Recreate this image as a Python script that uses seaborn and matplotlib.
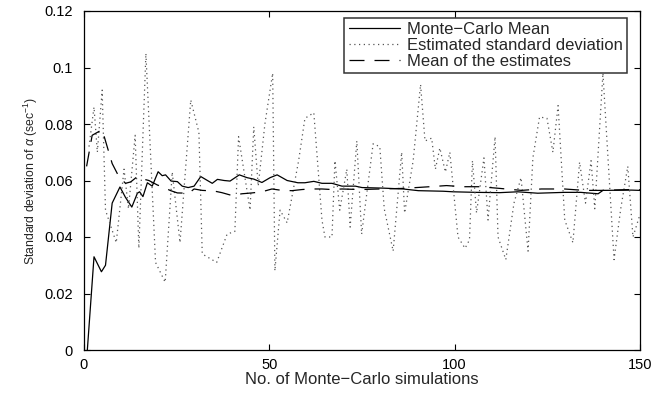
import numpy as np
import pandas as pd
import matplotlib
matplotlib.use("Agg")
import matplotlib.pyplot as plt
import seaborn as sns

# ---- data ----
mc_x = [0.9, 2.7, 4.7, 5.8, 7.6, 9.7, 11.2, 12.9, 14.4, 15.0, 15.9, 17.1, 18.4, 20.0, 21.1, 22.0,
        23.5, 25.2, 26.5, 28.1, 29.7, 31.5, 33.3, 34.6, 36.0, 37.8, 39.4, 41.9, 44.0, 45.8, 48.0,
        50.2, 52.1, 54.8, 57.7, 59.6, 62.0, 64.2, 66.9, 69.6, 73.2, 75.0, 80.7, 86.1, 90.2, 96.9,
        99.6, 105.9, 112.2, 117.0, 122.4, 129.6, 134.0, 138.7, 140.0, 147.7, 150.0]
mc_y = [0.0, 0.033, 0.0277, 0.030, 0.052, 0.0577, 0.054, 0.0506, 0.0555, 0.056, 0.0543, 0.0592,
        0.058, 0.0631, 0.0617, 0.062, 0.0598, 0.0596, 0.058, 0.0575, 0.058, 0.0614, 0.060, 0.059,
        0.0604, 0.060, 0.0598, 0.062, 0.061, 0.0605, 0.0593, 0.061, 0.062, 0.060, 0.0592, 0.0592,
        0.0597, 0.059, 0.059, 0.058, 0.058, 0.0575, 0.0573, 0.057, 0.0564, 0.0562, 0.056, 0.0558,
        0.0557, 0.056, 0.0555, 0.0558, 0.0558, 0.0553, 0.0565, 0.0566, 0.0565]

est_x = [1.35, 2.7, 3.6, 4.9, 5.8, 8.7, 10.8, 12.0, 13.8, 14.8, 16.7, 19.3, 21.9, 23.8, 25.9,
         28.8, 31.0, 31.9, 35.8, 38.6, 40.7, 41.7, 44.8, 45.8, 47.0, 48.8, 50.9, 51.5, 52.9, 54.8,
         57.9, 59.6, 62.0, 64.2, 65.0, 66.9, 67.7, 69.0, 70.9, 71.8, 73.6, 74.9, 78.0, 79.8, 81.0,
         83.4, 85.7, 86.5, 88.8, 90.8, 92.0, 93.8, 94.8, 96.0, 97.5, 98.7, 100.9, 102.8, 104.0,
         104.8, 105.9, 107.9, 109.0, 110.9, 111.7, 113.8, 116.0, 117.9, 119.8, 121.1, 122.9,
         124.9, 126.5, 127.9, 129.7, 131.9, 133.7, 135.3, 136.8, 137.8, 140.0, 143.0, 144.8,
         146.7, 148.1, 150.0]
est_y = [0.072, 0.086, 0.070, 0.092, 0.0495, 0.038, 0.064, 0.050, 0.076, 0.036, 0.105, 0.031,
         0.024, 0.063, 0.038, 0.0885, 0.077, 0.034, 0.031, 0.041, 0.042, 0.0755, 0.0495, 0.079,
         0.058, 0.080, 0.098, 0.028, 0.0495, 0.045, 0.067, 0.082, 0.084, 0.046, 0.040, 0.040,
         0.067, 0.0495, 0.064, 0.0435, 0.074, 0.041, 0.073, 0.072, 0.050, 0.035, 0.070, 0.0485,
         0.067, 0.094, 0.074, 0.075, 0.064, 0.0715, 0.063, 0.070, 0.040, 0.036, 0.039, 0.067,
         0.0485, 0.068, 0.046, 0.0755, 0.040, 0.032, 0.052, 0.061, 0.035, 0.068, 0.0825, 0.082,
         0.070, 0.0865, 0.046, 0.038, 0.0665, 0.052, 0.067, 0.050, 0.098, 0.032, 0.050, 0.065,
         0.040, 0.048]

me_x = [0.7, 2.2, 4.9, 5.8, 7.6, 9.4, 11.2, 12.6, 14.4, 16.0, 17.5, 19.8, 20.7, 23.4, 25.2,
        28.3, 29.7, 31.9, 35.0, 37.2, 39.9, 42.6, 45.3, 48.0, 50.7, 53.4, 56.1, 58.8, 61.0, 64.2,
        66.9, 69.6, 74.5, 79.9, 86.0, 93.3, 97.8, 102.3, 106.8, 112.2, 118.0, 123.4, 129.6, 135.0,
        139.5, 147.6, 150.0]
me_y = [0.065, 0.076, 0.078, 0.074, 0.066, 0.0614, 0.059, 0.0595, 0.0614, 0.0605, 0.060, 0.0584,
        0.058, 0.0564, 0.0556, 0.0555, 0.057, 0.0565, 0.0563, 0.0557, 0.0547, 0.0553, 0.0556, 0.056,
        0.057, 0.0565, 0.0564, 0.0568, 0.057, 0.057, 0.0568, 0.057, 0.0568, 0.057, 0.0572, 0.0578,
        0.0582, 0.0578, 0.0578, 0.0572, 0.0565, 0.057, 0.057, 0.0565, 0.0565, 0.0568, 0.0567]

series_labels = ["Monte\u2212Carlo Mean", "Estimated standard deviation", "Mean of the estimates"]
x_ticks = [0, 50, 100, 150]
y_ticks = [0, 0.02, 0.04, 0.06, 0.08, 0.1, 0.12]
y_tick_labels = ["0", "0.02", "0.04", "0.06", "0.08", "0.1", "0.12"]

# ---- style ----
sns.set_style("ticks")
plt.rcParams['font.family'] = ['Liberation Sans', 'DejaVu Sans']
plt.rcParams['mathtext.fontset'] = 'custom'
plt.rcParams['mathtext.rm'] = 'Liberation Sans'
plt.rcParams['mathtext.it'] = 'Liberation Sans:italic'

fig = plt.figure(figsize=(6.67, 3.93), dpi=100)
ax = fig.add_axes([84/667, 43/393, 556/667, 339/393])

sns.lineplot(x=mc_x, y=mc_y, ax=ax, color="black", linewidth=0.9, sort=False,
             estimator=None, label=series_labels[0])
sns.lineplot(x=est_x, y=est_y, ax=ax, color="#555555", linewidth=0.9, sort=False,
             estimator=None, label=series_labels[1], linestyle=(0, (1, 2.8)))
sns.lineplot(x=me_x, y=me_y, ax=ax, color="black", linewidth=0.9, sort=False,
             estimator=None, label=series_labels[2], linestyle=(0, (12, 8)))

ax.set_xlim(0, 150)
ax.set_ylim(0, 0.12)
ax.set_xticks(x_ticks)
ax.set_xticklabels([str(t) for t in x_ticks])
ax.set_yticks(y_ticks)
ax.set_yticklabels(y_tick_labels)
ax.tick_params(direction="in", length=4, width=0.8, top=True, right=True, labelsize=10.5,
               colors="black")
ax.tick_params(axis="y", pad=8)
ax.tick_params(axis="x", pad=6)
for s in ax.spines.values():
    s.set_visible(True)
    s.set_linewidth(0.9)
    s.set_color("black")

ax.set_xlabel("No. of Monte\u2212Carlo simulations", fontsize=12, labelpad=0)
ax.set_ylabel(r"Standard deviation of $\alpha$ (sec$^{-1}$)", fontsize=8.8)
ax.yaxis.set_label_coords(-0.08, 0.5)

leg = ax.legend(loc="upper right", bbox_to_anchor=(0.9766, 0.979), fontsize=12,
                frameon=True, fancybox=False, edgecolor="black", handlelength=3.1,
                borderaxespad=0.0, borderpad=0.25, labelspacing=0.05, handletextpad=0.4)
leg.get_frame().set_linewidth(1.1)

fig.savefig("out.png", dpi=100)
